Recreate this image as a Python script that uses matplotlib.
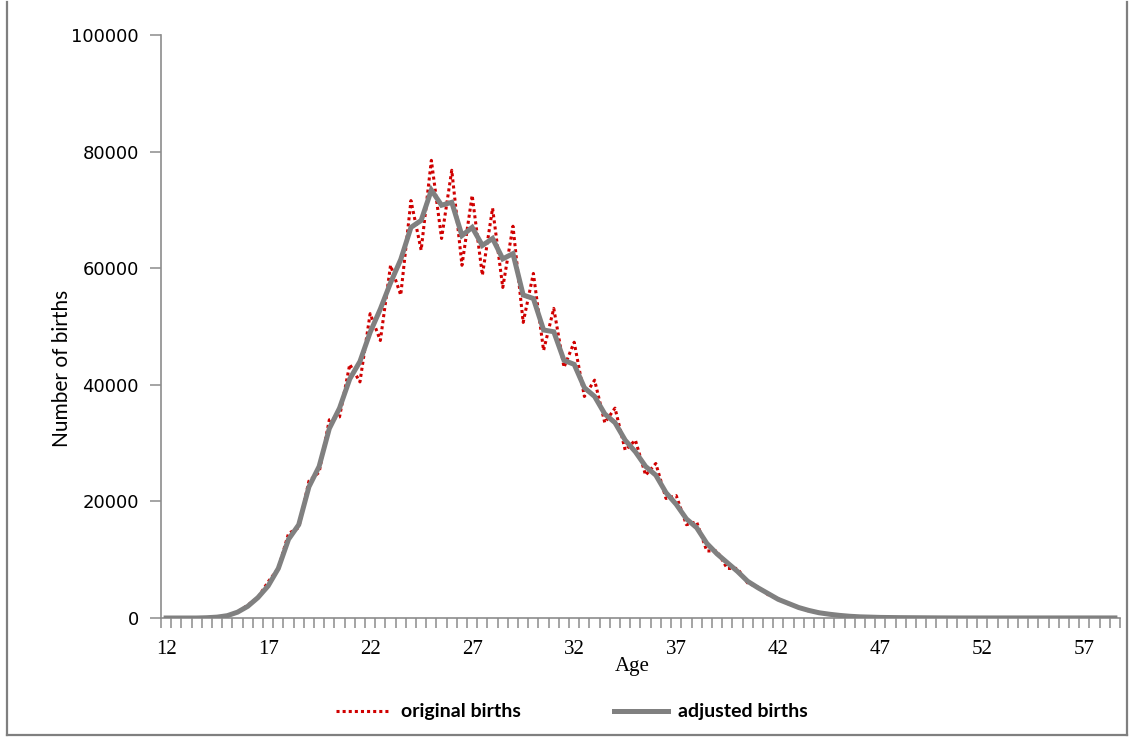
import numpy as np
import matplotlib
matplotlib.use("Agg")
import matplotlib.pyplot as plt
from matplotlib.lines import Line2D

# ---- data ----
ages = list(np.arange(12.0, 59.0, 0.5))  # categories 12, 12.5, ..., 58.5

adjusted_births = [
    0, 0, 0, 0, 50, 150, 400, 1000, 2000, 3500,
    5500, 8500, 13500, 16000, 22500, 26000, 32500, 36000, 41000, 44000,
    49000, 53000, 57500, 61500, 67000, 68200, 73400, 70800, 71300, 65600,
    67000, 63900, 65100, 61600, 62500, 55400, 54800, 49400, 49100, 44200,
    43500, 39500, 38000, 35000, 33500, 30500, 28500, 26000, 24500, 21500,
    19500, 17000, 15500, 12800, 11000, 9500, 8000, 6300, 5200, 4200,
    3200, 2500, 1800, 1300, 900, 650, 450, 300, 200, 150,
    100, 80, 60, 50, 40, 30, 20, 15, 10, 10,
    10, 10, 10, 10, 10, 10, 10, 10, 10, 10,
    10, 10, 10, 10,
]

original_births = [
    0, 0, 0, 0, 60, 150, 450, 1000, 2200, 3500,
    6200, 8500, 14500, 15500, 23500, 25000, 34000, 34500, 43500, 40500,
    52200, 47600, 60500, 55400, 71600, 63100, 78500, 65100, 76800, 60500,
    72500, 58800, 70300, 56700, 67200, 50700, 59100, 45900, 53100, 43000,
    47300, 38000, 40800, 33500, 36000, 28800, 30500, 24500, 26500, 20500,
    21000, 16000, 16500, 11500, 11500, 8500, 8500, 6000, 5300, 4000,
    3300, 2400, 1900, 1200, 950, 600, 450, 280, 200, 140,
    100, 80, 60, 50, 40, 30, 20, 15, 10, 10,
    10, 10, 10, 10, 10, 10, 10, 10, 10, 10,
    10, 10, 10, 10,
]

x_labels = [12, 17, 22, 27, 32, 37, 42, 47, 52, 57]
y_ticks = [0, 20000, 40000, 60000, 80000, 100000]

# ---- figure ----
W, H = 1133, 740
fig = plt.figure(figsize=(W / 100, H / 100), dpi=100)
ax = fig.add_axes([161 / W, 1 - 618 / H, (1120 - 161) / W, (618 - 35) / H])

red = "#d00000"
grey = "#808080"
axis_grey = "#8c8c8c"

ax.plot(ages, original_births, color=red, lw=2.2, linestyle=(0, (1, 1)),
        label="original births", zorder=2)
ax.plot(ages, adjusted_births, color=grey, lw=3.6, solid_joinstyle="miter",
        label="adjusted births", zorder=3)

ax.set_xlim(11.75, 58.75)
ax.set_ylim(0, 100000)

for s in ["top", "right"]:
    ax.spines[s].set_visible(False)
for s in ["left", "bottom"]:
    ax.spines[s].set_color(axis_grey)
    ax.spines[s].set_linewidth(1.2)

# x axis: labels at category centres, tick marks at category boundaries
ax.set_xticks(x_labels)
ax.set_xticklabels([str(v) for v in x_labels], fontfamily="Liberation Serif",
                   fontsize=15)
ax.tick_params(axis="x", which="major", length=0, pad=16)
ax.set_xticks(np.arange(11.75, 58.76, 0.5), minor=True)
ax.tick_params(axis="x", which="minor", length=7, width=1.1,
               color=axis_grey, direction="out")

ax.set_yticks(y_ticks)
ax.set_yticklabels([str(v) for v in y_ticks], fontfamily="DejaVu Sans",
                   fontsize=13)
ax.tick_params(axis="y", length=8, width=1.1, color=axis_grey,
               direction="out", pad=8)

ax.set_xlabel("Age", fontfamily="Liberation Serif", fontsize=15)
ax.xaxis.set_label_coords((632 - 161) / (1120 - 161), (618 - 667) / (618 - 35))
ax.xaxis.label.set_va("center")
ax.set_ylabel("Number of births", fontfamily="Lato", fontsize=15)
ax.yaxis.set_label_coords((62 - 161) / (1120 - 161), (618 - 368) / (618 - 35))
ax.yaxis.label.set_va("center")

leg = fig.legend(loc="center", bbox_to_anchor=(572 / W, 1 - 712 / H), ncol=2,
                 frameon=False, prop={"family": "Lato", "weight": "bold",
                                      "size": 14},
                 handlelength=2.8, handletextpad=0.5, columnspacing=4.8)

# outer chart border
border = dict(color="#7f7f7f", lw=1.6, transform=fig.transFigure)
fig.add_artist(Line2D([7 / W, 7 / W], [1 - 2 / H, 1 - 735 / H], **border))
fig.add_artist(Line2D([7 / W, 1127 / W], [1 - 735 / H, 1 - 735 / H], **border))
fig.add_artist(Line2D([1127 / W, 1127 / W], [1 - 2 / H, 1 - 735 / H], **border))

fig.savefig("out.png", dpi=100)
